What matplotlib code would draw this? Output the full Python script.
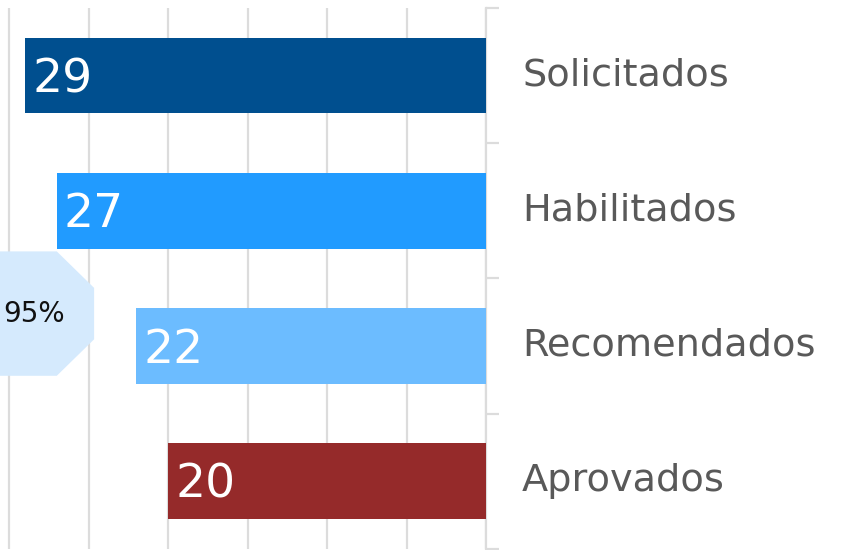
import matplotlib
matplotlib.use("Agg")
import matplotlib.pyplot as plt
import matplotlib.transforms as mtransforms
from matplotlib.patches import Polygon

# 단계별 건수
categories = ["Solicitados", "Habilitados", "Recomendados", "Aprovados"]
values = [29, 27, 22, 20]
colors = ["#004f8f", "#219bff", "#6cbcff", "#952a2a"]
badge_text = "95%"

plt.rcParams["font.family"] = ["DejaVu Sans"]

fig = plt.figure(figsize=(8.46, 5.5), dpi=100)
ax = fig.add_axes([0, 0.002, 486 / 846, 0.9855 - 0.002])

pos = list(range(len(categories)))
ax.barh(pos, values, height=0.56, color=colors, zorder=3)

ax.set_xlim(30.57, 0)
ax.set_ylim(len(categories) - 0.5, -0.5)

# 막대 안쪽 숫자
for p, v in zip(pos, values):
    ax.text(v - 0.45, p + 0.03, str(v), color="white", fontsize=34,
            ha="left", va="center", zorder=4)

# 격자
ax.set_xticks([0, 5, 10, 15, 20, 25, 30])
ax.xaxis.grid(True, color="#dcdcdc", linewidth=1.6, zorder=0)
ax.tick_params(axis="x", length=0, labelbottom=False)

# 오른쪽 축
ax.yaxis.tick_right()
ax.set_yticks(pos)
ax.set_yticklabels(categories)
ax.set_yticks([p - 0.5 for p in pos] + [len(pos) - 0.5], minor=True)
ax.tick_params(axis="y", which="major", length=0, pad=26, labelsize=27.5,
               labelcolor="#595959")
ax.tick_params(axis="y", which="minor", length=9, width=1.6, color="#dcdcdc")
up = mtransforms.ScaledTranslation(0, 3 / 72, fig.dpi_scale_trans)
for lbl in ax.get_yticklabels():
    lbl.set_transform(lbl.get_transform() + up)
for s in ["top", "bottom", "left"]:
    ax.spines[s].set_visible(False)
ax.spines["right"].set_color("#dcdcdc")
ax.spines["right"].set_linewidth(1.6)

# 95% 배지 (육각형)
bx, by = 28.3, 1.76
hw, hh = 3.65, 0.46
badge = Polygon([(bx + hw, by - hh), (bx - 1.3, by - hh), (bx - hw, by - hh + 0.27),
                 (bx - hw, by + hh - 0.27), (bx - 1.3, by + hh), (bx + hw, by + hh)],
                closed=True, facecolor="#d5eafd", edgecolor="none", zorder=5,
                clip_on=True)
ax.add_patch(badge)
ax.text(28.4, by, badge_text, fontsize=20, color="#111111", ha="center",
        va="center", zorder=6)

fig.savefig("out.png", dpi=100)
